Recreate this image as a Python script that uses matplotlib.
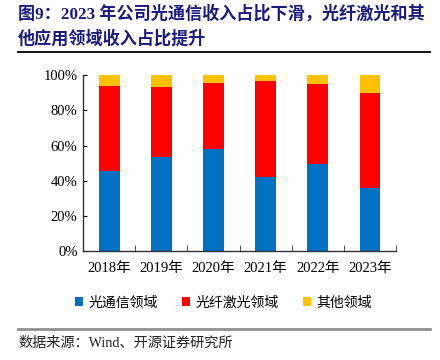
import matplotlib
matplotlib.use('Agg')
import matplotlib.pyplot as plt
import numpy as np
from matplotlib.lines import Line2D
from matplotlib.patches import Patch

plt.rcParams['font.family'] = ['Liberation Serif', 'Noto Sans CJK SC']

years = ['2018年', '2019年', '2020年', '2021年', '2022年', '2023年']
optical_comm = [45.4, 53.3, 58.2, 41.9, 49.3, 35.8]
fiber_laser = [48.5, 40.2, 37.6, 55.0, 45.7, 53.9]
others = [6.1, 6.5, 4.2, 3.1, 5.0, 10.3]
series_names = ['光通信领域', '光纤激光领域', '其他领域']
colors = ['#0070C0', '#FF0000', '#FFC000']

fig = plt.figure(figsize=(4.4, 3.6), dpi=100)
ax = fig.add_axes([0.189, 0.303, 0.711, 0.488])

x = np.arange(len(years))
a = np.array(optical_comm) / 100
b = np.array(fiber_laser) / 100
c = np.array(others) / 100
w = 0.4
ax.bar(x, a, w, color=colors[0], edgecolor='none')
ax.bar(x, b, w, bottom=a, color=colors[1], edgecolor='none')
ax.bar(x, c, w, bottom=a + b, color=colors[2], edgecolor='none')

ax.set_xlim(-0.5, len(years) - 0.5)
ax.set_ylim(0, 1)
ax.set_yticks(np.arange(0, 1.01, 0.2))
ax.set_yticklabels(['%d%%' % v for v in range(0, 101, 20)], fontsize=10.5)
ax.set_xticks(x)
ax.set_xticklabels(years, fontsize=10.5)
ax.tick_params(axis='x', length=0, pad=8)
ax.tick_params(axis='y', direction='in', length=3, pad=4)
ax.set_xticks(np.arange(-0.5, len(years)), minor=True)
ax.tick_params(axis='x', which='minor', direction='in', length=4, color='#333333')
for s in ['top', 'right']:
    ax.spines[s].set_visible(False)
for s in ['left', 'bottom']:
    ax.spines[s].set_color('#333333')
    ax.spines[s].set_linewidth(1)

# title
title_font = ['Liberation Serif', 'Noto Sans CJK SC']
fig.text(0.041, 0.962, '图9：2023 年公司光通信收入占比下滑，光纤激光和其', fontsize=12.3,
         fontweight='bold', color='#1B1B7E', family=title_font, va='center', ha='left')
fig.text(0.041, 0.892, '他应用领域收入占比提升', fontsize=12.3,
         fontweight='bold', color='#1B1B7E', family=title_font, va='center', ha='left')
fig.add_artist(Line2D([0.041, 0.977], [0.855, 0.855], color='black', lw=1.3,
                      transform=fig.transFigure))

# legend
handles = [Patch(facecolor=col, edgecolor='none') for col in colors]
fig.legend(handles, series_names, loc='center', bbox_to_anchor=(0.508, 0.16), ncol=3,
           frameon=False, prop={'family': ['Noto Sans CJK SC'], 'size': 10},
           handlelength=0.6, handleheight=0.6, handletextpad=0.4, columnspacing=1.7)

# source
fig.add_artist(Line2D([0.041, 0.977], [0.086, 0.086], color='#909090', lw=2,
                      transform=fig.transFigure))
fig.text(0.041, 0.047, '数据来源：Wind、开源证券研究所', fontsize=10.2,
         family=['Liberation Serif', 'Noto Sans CJK SC'], va='center', ha='left',
         color='#222222')

fig.savefig('out.png', dpi=100)
